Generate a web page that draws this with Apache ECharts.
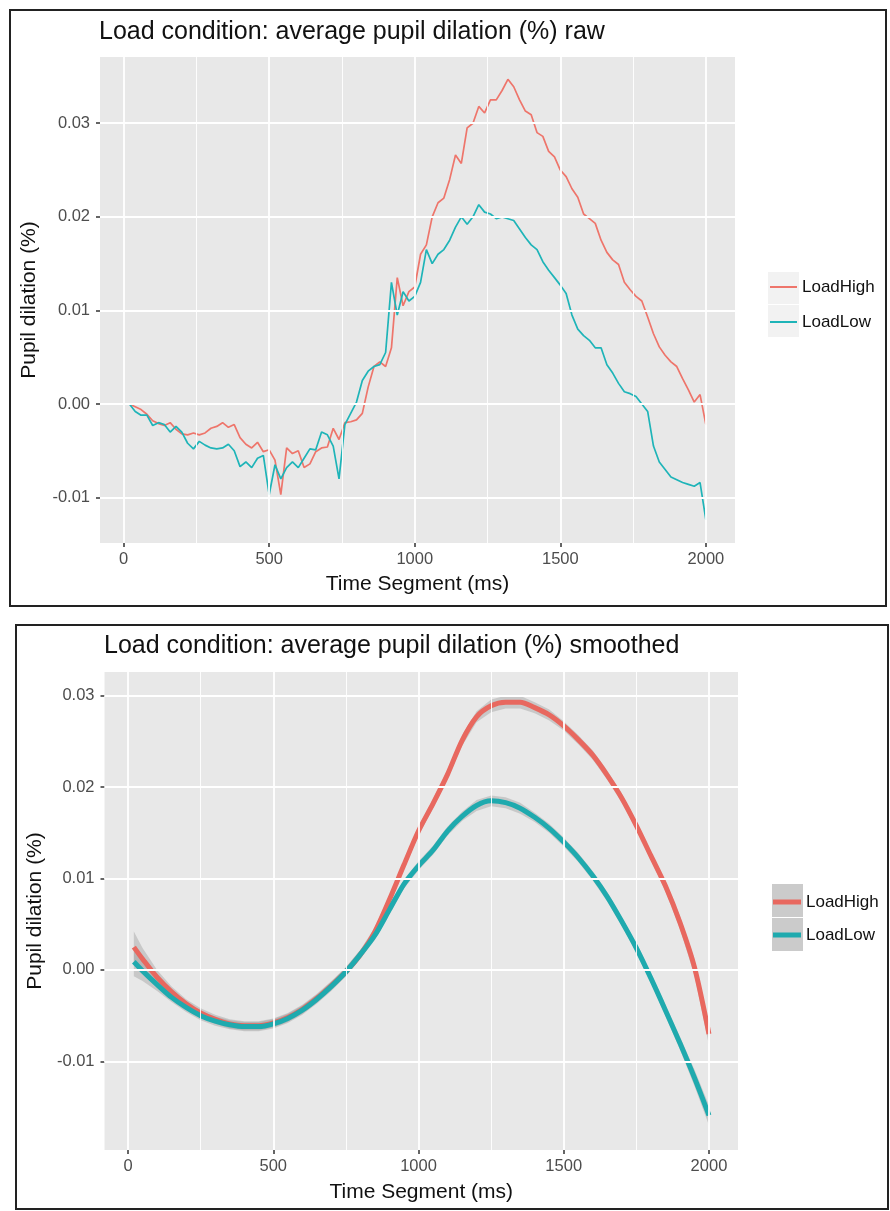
<!DOCTYPE html>
<html>
<head>
<meta charset="utf-8">
<script src="https://cdn.jsdelivr.net/npm/echarts@6/dist/echarts.min.js"></script>
<style>
  html, body { margin: 0; padding: 0; background: #fff; }
  .panel { position: absolute; border: 2px solid #222; box-sizing: border-box; background: #fff; }
  #raw { left: 9px; top: 9px; width: 878px; height: 598px; }
  #smooth { left: 15px; top: 624px; width: 874px; height: 586px; }
</style>
</head>
<body>
<div id="raw" class="panel"></div>
<div id="smooth" class="panel"></div>
<script>
// raw averages, 20 ms segments
var timeRaw = [20, 40, 60, 80, 100, 120, 140, 160, 180, 200,
  220, 240, 260, 280, 300, 320, 340, 360, 380, 400,
  420, 440, 460, 480, 500, 520, 540, 560, 580, 600,
  620, 640, 660, 680, 700, 720, 740, 760, 780, 800,
  820, 840, 860, 880, 900, 920, 940, 960, 980, 1000,
  1020, 1040, 1060, 1080, 1100, 1120, 1140, 1160, 1180, 1200,
  1220, 1240, 1260, 1280, 1300, 1320, 1340, 1360, 1380, 1400,
  1420, 1440, 1460, 1480, 1500, 1520, 1540, 1560, 1580, 1600,
  1620, 1640, 1660, 1680, 1700, 1720, 1740, 1760, 1780, 1800,
  1820, 1840, 1860, 1880, 1900, 1920, 1940, 1960, 1980, 2000];
var highRaw = [0.0000, -0.0003, -0.0006, -0.0011, -0.0018, -0.0021, -0.0023, -0.0020, -0.0027, -0.0032,
  -0.0033, -0.0031, -0.0033, -0.0031, -0.0026, -0.0024, -0.0020, -0.0025, -0.0022, -0.0036,
  -0.0043, -0.0047, -0.0041, -0.0051, -0.0049, -0.0060, -0.0097, -0.0047, -0.0053, -0.0050,
  -0.0068, -0.0064, -0.0051, -0.0047, -0.0046, -0.0026, -0.0038, -0.0020, -0.0019, -0.0017,
  -0.0010, 0.0018, 0.0040, 0.0045, 0.0040, 0.0060, 0.0135, 0.0105, 0.0120, 0.0125,
  0.0160, 0.0170, 0.0200, 0.0215, 0.0220, 0.0240, 0.0266, 0.0257, 0.0295, 0.0300,
  0.0318, 0.0311, 0.0325, 0.0325, 0.0335, 0.0347, 0.0339, 0.0325, 0.0313, 0.0309,
  0.0290, 0.0286, 0.0270, 0.0264, 0.0250, 0.0243, 0.0230, 0.0221, 0.0203, 0.0198,
  0.0193, 0.0175, 0.0162, 0.0154, 0.0149, 0.0130, 0.0122, 0.0115, 0.0110, 0.0093,
  0.0075, 0.0061, 0.0052, 0.0045, 0.0040, 0.0027, 0.0015, 0.0002, 0.0010, -0.0022];
var lowRaw = [0.0000, -0.0008, -0.0012, -0.0012, -0.0023, -0.0020, -0.0022, -0.0030, -0.0024, -0.0030,
  -0.0042, -0.0048, -0.0040, -0.0044, -0.0047, -0.0048, -0.0047, -0.0043, -0.0050, -0.0067,
  -0.0062, -0.0068, -0.0058, -0.0055, -0.0097, -0.0065, -0.0080, -0.0068, -0.0062, -0.0068,
  -0.0058, -0.0048, -0.0049, -0.0030, -0.0033, -0.0045, -0.0080, -0.0022, -0.0010, 0.0002,
  0.0025, 0.0035, 0.0040, 0.0042, 0.0055, 0.0130, 0.0095, 0.0120, 0.0110, 0.0115,
  0.0130, 0.0165, 0.0150, 0.0160, 0.0165, 0.0175, 0.0189, 0.0200, 0.0192, 0.0200,
  0.0213, 0.0205, 0.0203, 0.0198, 0.0200, 0.0198, 0.0196, 0.0187, 0.0178, 0.0170,
  0.0165, 0.0152, 0.0143, 0.0135, 0.0127, 0.0118, 0.0095, 0.0080, 0.0073, 0.0068,
  0.0060, 0.0060, 0.0042, 0.0033, 0.0022, 0.0013, 0.0011, 0.0008, 0.0000, -0.0008,
  -0.0045, -0.0062, -0.0070, -0.0078, -0.0081, -0.0084, -0.0086, -0.0088, -0.0084, -0.0124];

// smoothed fit with confidence half-widths
var timeSmooth = [20, 50, 100, 150, 200, 250, 300, 350, 400, 450, 500, 550, 600, 650, 700, 750, 800,
  850, 900, 950, 1000, 1050, 1100, 1150, 1200, 1250, 1300, 1350, 1400, 1450, 1500, 1550, 1600,
  1650, 1700, 1750, 1800, 1850, 1900, 1950, 2000];
var highSmooth = [0.0025, 0.0012, -0.0008, -0.0024, -0.0037, -0.0047, -0.0054, -0.0059, -0.0061, -0.0061,
  -0.0058, -0.0052, -0.0043, -0.0031, -0.0017, -0.0002, 0.0017, 0.0042, 0.0077, 0.0115,
  0.0152, 0.0182, 0.0214, 0.0251, 0.0277, 0.0289, 0.0293, 0.0293, 0.0287, 0.0279,
  0.0267, 0.0252, 0.0235, 0.0213, 0.0188, 0.0158, 0.0125, 0.0092, 0.0052, 0.0003, -0.0070];
var lowSmooth = [0.0009, -0.0001, -0.0016, -0.0030, -0.0041, -0.0050, -0.0056, -0.0060, -0.0062, -0.0062,
  -0.0059, -0.0053, -0.0044, -0.0032, -0.0018, -0.0002, 0.0017, 0.0038, 0.0066, 0.0094,
  0.0114, 0.0131, 0.0152, 0.0168, 0.0180, 0.0185, 0.0183, 0.0177, 0.0167, 0.0155,
  0.0140, 0.0123, 0.0103, 0.0080, 0.0053, 0.0024, -0.0009, -0.0044, -0.0080, -0.0118, -0.0159];
var ciHigh = [0.0017, 0.0012, 0.0008, 0.0006, 0.0005, 0.0005, 0.0005, 0.0005, 0.0005, 0.0005,
  0.0005, 0.0005, 0.0005, 0.0005, 0.0005, 0.0005, 0.0005, 0.0005, 0.0005, 0.0005,
  0.0005, 0.0005, 0.0005, 0.0006, 0.0006, 0.0007, 0.0007, 0.0007, 0.0006, 0.0006,
  0.0005, 0.0005, 0.0005, 0.0005, 0.0005, 0.0005, 0.0005, 0.0006, 0.0007, 0.0009, 0.0012];
var ciLow = [0.0016, 0.0011, 0.0007, 0.0005, 0.0005, 0.0005, 0.0005, 0.0005, 0.0005, 0.0005,
  0.0005, 0.0005, 0.0005, 0.0005, 0.0005, 0.0005, 0.0005, 0.0005, 0.0005, 0.0005,
  0.0005, 0.0005, 0.0005, 0.0005, 0.0006, 0.0006, 0.0006, 0.0006, 0.0005, 0.0005,
  0.0005, 0.0005, 0.0005, 0.0005, 0.0005, 0.0005, 0.0005, 0.0006, 0.0007, 0.0009, 0.0011];

var xTicks = [0, 500, 1000, 1500, 2000];
var xMinor = [250, 750, 1250, 1750];
var yTicks = [-0.01, 0, 0.01, 0.02, 0.03];
var yMinor = [-0.015, -0.005, 0.005, 0.015, 0.025, 0.035];
var groups = ['LoadHigh', 'LoadLow'];

var font = "'Liberation Sans', Arial, sans-serif";
var red = '#EE756B';
var teal = '#1EB4B8';

function pairs(xs, ys) {
  return xs.map(function(x, i) { return [x, ys[i]]; });
}

// ggplot-like white grid, minor lines thinner
function gridLines(yMin, yMax) {
  var items = [];
  xMinor.forEach(function(v) { items.push({ xAxis: v, lineStyle: { width: 0.9 } }); });
  yMinor.forEach(function(v) {
    if (v > yMin && v < yMax) items.push({ yAxis: v, lineStyle: { width: 0.9 } });
  });
  xTicks.forEach(function(v) { items.push({ xAxis: v, lineStyle: { width: 1.8 } }); });
  yTicks.forEach(function(v) { items.push({ yAxis: v, lineStyle: { width: 1.8 } }); });
  return {
    type: 'line', data: [], silent: true, z: 1,
    markLine: {
      silent: true, animation: false, symbol: ['none', 'none'],
      label: { show: false },
      lineStyle: { color: '#ffffff', type: 'solid' },
      emphasis: { disabled: true },
      data: items
    }
  };
}

function axes(p) {
  var hidden = { show: true, onZero: false, lineStyle: { color: 'rgba(0,0,0,0)' } };
  return {
    xAxis: {
      type: 'value', min: p.xMin, max: p.xMax,
      splitLine: { show: false },
      axisLine: hidden,
      axisTick: { show: true, inside: false, length: 4, customValues: xTicks, lineStyle: { color: '#333', width: 1.5 } },
      axisLabel: {
        customValues: xTicks, color: '#4d4d4d', fontSize: 16.5, margin: 8, fontFamily: font,
        formatter: function(v) { return String(v); }
      },
      name: 'Time Segment (ms)', nameLocation: 'middle', nameGap: p.xNameGap,
      nameTextStyle: { fontSize: 21, color: '#111', fontFamily: font }
    },
    yAxis: {
      type: 'value', min: p.yMin, max: p.yMax,
      splitLine: { show: false },
      axisLine: hidden,
      axisTick: { show: true, inside: false, length: 4, customValues: yTicks, lineStyle: { color: '#333', width: 1.5 } },
      axisLabel: {
        customValues: yTicks, color: '#4d4d4d', fontSize: 16.5, margin: 10, fontFamily: font,
        formatter: function(v) { return v.toFixed(2); }
      },
      name: 'Pupil dilation (%)', nameLocation: 'middle', nameGap: p.yNameGap,
      nameTextStyle: { fontSize: 21, color: '#111', fontFamily: font }
    }
  };
}

function initChart(domId, option) {
  var chart = echarts.init(document.getElementById(domId), null, { renderer: 'canvas' });
  chart.setOption(option);
  return chart;
}

// --- Panel 1: raw ---
var rawAxes = axes({ xMin: -81, xMax: 2100, yMin: -0.01486, yMax: 0.03708, xNameGap: 31, yNameGap: 60 });
initChart('raw', {
  animation: false,
  textStyle: { fontFamily: font },
  title: {
    text: 'Load condition: average pupil dilation (%) raw', left: 88, top: 9, padding: 0,
    textStyle: { fontSize: 25, fontWeight: 'normal', color: '#111', fontFamily: font }
  },
  grid: { left: 88, top: 46, width: 636, height: 486, show: true, backgroundColor: '#E8E8E8', borderWidth: 0 },
  xAxis: rawAxes.xAxis,
  yAxis: rawAxes.yAxis,
  legend: {
    data: groups, orient: 'vertical', left: 759, top: 266, padding: 0,
    itemWidth: 27, itemHeight: 2, itemGap: 15, icon: 'rect',
    textStyle: { fontSize: 17, color: '#111', lineHeight: 20, fontFamily: font }
  },
  graphic: [
    { type: 'rect', silent: true, z: 0, shape: { x: 757, y: 261, width: 31, height: 32 }, style: { fill: '#F2F2F2' } },
    { type: 'rect', silent: true, z: 0, shape: { x: 757, y: 294, width: 31, height: 32 }, style: { fill: '#F2F2F2' } }
  ],
  series: [
    gridLines(-0.01486, 0.03708),
    {
      name: 'LoadHigh', type: 'line', data: pairs(timeRaw, highRaw), showSymbol: false,
      color: red, lineStyle: { width: 1.7, color: red }
    },
    {
      name: 'LoadLow', type: 'line', data: pairs(timeRaw, lowRaw), showSymbol: false,
      color: teal, lineStyle: { width: 1.7, color: teal }
    }
  ]
});

// --- Panel 2: smoothed with confidence ribbons ---
// one polygon per group, built from [time, lower, upper] rows through the axis scales
function ribbon(center, ci) {
  var rows = timeSmooth.map(function(t, i) { return [t, center[i] - ci[i], center[i] + ci[i]]; });
  return {
    type: 'custom', silent: true, data: rows,
    encode: { x: 0, y: [1, 2] },
    renderItem: function(params, api) {
      if (params.dataIndexInside !== 0) return null;
      var upper = [], lower = [];
      for (var i = 0; i < params.dataInsideLength; i++) {
        upper.push(api.coord([api.value(0, i), api.value(2, i)]));
        lower.push(api.coord([api.value(0, i), api.value(1, i)]));
      }
      return {
        type: 'polygon',
        shape: { points: upper.concat(lower.reverse()) },
        style: { fill: 'rgba(153,153,153,0.4)' }
      };
    }
  };
}

var smoothAxes = axes({ xMin: -81, xMax: 2100, yMin: -0.0197, yMax: 0.0326, xNameGap: 32, yNameGap: 58 });
initChart('smooth', {
  animation: false,
  textStyle: { fontFamily: font },
  title: {
    text: 'Load condition: average pupil dilation (%) smoothed', left: 87, top: 8, padding: 0,
    textStyle: { fontSize: 25, fontWeight: 'normal', color: '#111', fontFamily: font }
  },
  grid: { left: 87, top: 46, width: 634, height: 483, show: true, backgroundColor: '#E8E8E8', borderWidth: 0 },
  xAxis: smoothAxes.xAxis,
  yAxis: smoothAxes.yAxis,
  legend: {
    data: groups, orient: 'vertical', left: 756, top: 266, padding: 0,
    itemWidth: 28, itemHeight: 5, itemGap: 13, icon: 'rect',
    textStyle: { fontSize: 17, color: '#111', lineHeight: 20, fontFamily: font }
  },
  graphic: [
    { type: 'rect', silent: true, z: 0, shape: { x: 755, y: 258, width: 31, height: 33 }, style: { fill: '#CBCBCB' } },
    { type: 'rect', silent: true, z: 0, shape: { x: 755, y: 292, width: 31, height: 33 }, style: { fill: '#CBCBCB' } }
  ],
  series: [
    gridLines(-0.0197, 0.0326),
    ribbon(highSmooth, ciHigh),
    {
      name: 'LoadHigh', type: 'line', data: pairs(timeSmooth, highSmooth), showSymbol: false, smooth: 0.3,
      color: '#E8685F', lineStyle: { width: 5, color: '#E8685F' }
    },
    ribbon(lowSmooth, ciLow),
    {
      name: 'LoadLow', type: 'line', data: pairs(timeSmooth, lowSmooth), showSymbol: false, smooth: 0.3,
      color: '#1FAAAE', lineStyle: { width: 5, color: '#1FAAAE' }
    }
  ]
});
</script>
</body>
</html>
